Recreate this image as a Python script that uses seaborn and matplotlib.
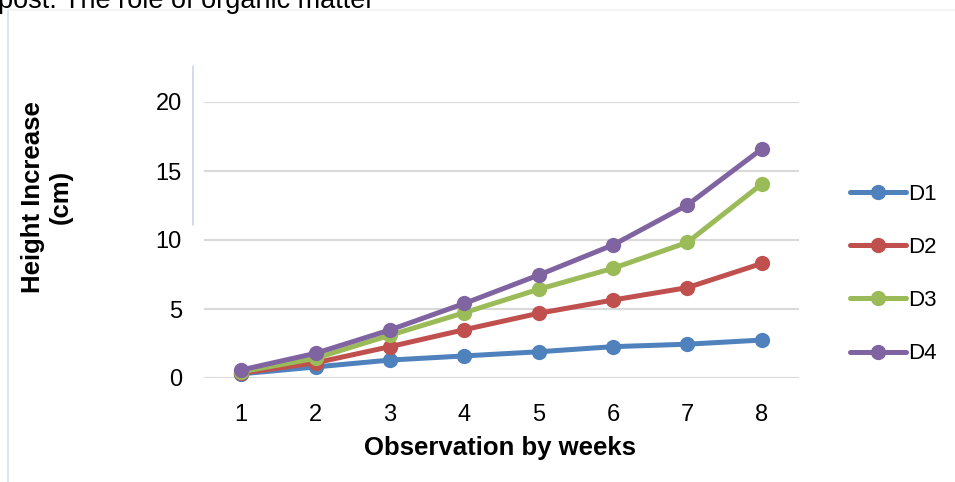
import pandas as pd
import matplotlib.pyplot as plt
import seaborn as sns
from matplotlib.lines import Line2D

weeks = [1, 2, 3, 4, 5, 6, 7, 8]
d1 = [0.3, 0.8, 1.3, 1.6, 1.9, 2.27, 2.45, 2.75]
d2 = [0.35, 1.1, 2.27, 3.5, 4.69, 5.65, 6.55, 8.3]
d3 = [0.45, 1.43, 3.1, 4.73, 6.43, 7.95, 9.83, 14.06]
d4 = [0.58, 1.79, 3.48, 5.4, 7.46, 9.64, 12.54, 16.6]
series_names = ['D1', 'D2', 'D3', 'D4']
colors = ['#4F81BD', '#C0504D', '#9BBB59', '#8064A2']

rows = []
for name, vals in zip(series_names, [d1, d2, d3, d4]):
    for w, v in zip(weeks, vals):
        rows.append({'week': w, 'height': v, 'series': name})
data = pd.DataFrame(rows)

sns.set_style('white')
plt.rcParams['font.family'] = ['Liberation Sans', 'DejaVu Sans']
plt.rcParams['text.color'] = 'black'
plt.rcParams['axes.labelcolor'] = 'black'

fig = plt.figure(figsize=(9.55, 4.82), dpi=100)
ax = fig.add_axes([204 / 955, 1 - 378 / 482, 595 / 955, 276 / 482])

sns.lineplot(data=data, x='week', y='height', hue='series', palette=colors,
             marker='o', markersize=11, markeredgewidth=0, linewidth=3.6,
             ax=ax, clip_on=False)

ax.set_xlim(0.5, 8.5)
ax.set_ylim(0, 20)
ax.set_xticks(weeks)
ax.set_yticks([0, 5, 10, 15, 20])
ax.yaxis.grid(True, color='#D9D9D9', linewidth=1.5)
ax.set_axisbelow(True)
for s in ax.spines.values():
    s.set_visible(False)
ax.tick_params(axis='both', length=0, labelsize=17, colors='black')
ax.tick_params(axis='y', pad=16)
ax.tick_params(axis='x', pad=19)

ax.set_xlabel('Observation by weeks', fontsize=18.5, fontweight='bold', color='black')
ax.xaxis.set_label_coords(0.497, -0.254)
ax.xaxis.label.set_va('center')
ax.set_ylabel('Height Increase\n(cm)', fontsize=18.5, fontweight='bold', color='black')
ax.yaxis.set_label_coords(-0.264, 0.656)
ax.yaxis.label.set_va('center')

leg = ax.legend(loc='center left', bbox_to_anchor=(1.086, 0.377), frameon=False,
                fontsize=16, handlelength=2.5, handletextpad=0.1,
                labelspacing=1.45, borderaxespad=0, borderpad=0)
for h in leg.get_lines():
    h.set_linewidth(3.6)
    h.set_markersize(11)
for t in leg.get_texts():
    t.set_color('black')

# page fragments from the source document (text is cut at the top in the source too)
fig.text(-0.002, 1 - 8.5 / 482, 'post. The role of organic matter', fontsize=19.5,
         va='baseline', ha='left', color='black')
fig.add_artist(Line2D([8 / 955, 8 / 955], [0, 1 - 10 / 482], color='#D6DFEC', linewidth=1.2))
fig.add_artist(Line2D([8 / 955, 1], [1 - 10 / 482, 1 - 10 / 482], color='#F2F2F7', linewidth=1.2))
fig.add_artist(Line2D([193 / 955, 193 / 955], [1 - 66 / 482, 1 - 225 / 482], color='#C8D6EA', linewidth=1.2))

fig.savefig('out.png', dpi=100)
